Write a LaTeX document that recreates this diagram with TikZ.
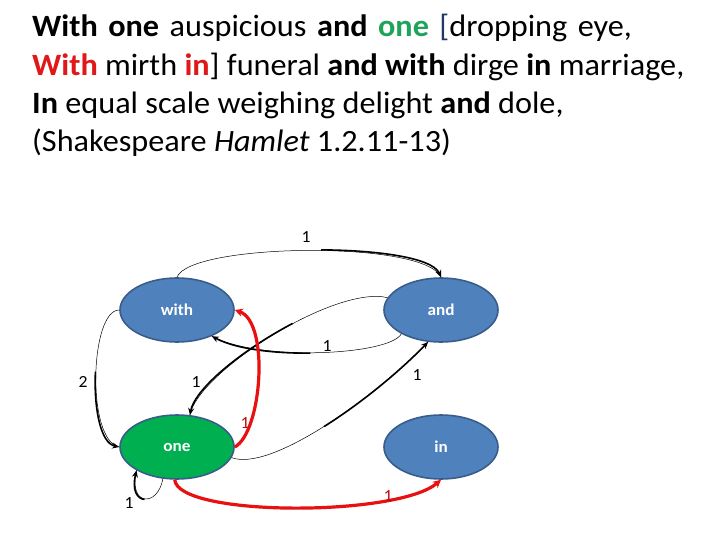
\documentclass[tikz,border=0pt]{standalone}
\usepackage{fontspec}
\setmainfont{Carlito}[FakeStretch=1.04]
\usetikzlibrary{shapes.geometric,arrows.meta}
\definecolor{nodeblue}{HTML}{4F81BD}
\definecolor{nodeedge}{HTML}{385D8A}
\definecolor{nodegreen}{HTML}{00B050}
\definecolor{txtred}{HTML}{E01818}
\definecolor{txtgreen}{HTML}{1FA35A}
\definecolor{brkblue}{HTML}{1F3864}
\definecolor{edgered}{HTML}{E81010}
\tikzset{
  state/.style={ellipse, draw=nodeedge, line width=1.6pt, minimum width=114pt, minimum height=64pt, inner sep=0pt,
    text=white, font=\fontsize{16.5}{18}\selectfont\bfseries},
  blue state/.style={state, fill=nodeblue},
  green state/.style={state, fill=nodegreen},
  line/.style={anchor=base west, inner sep=0pt, font=\fontsize{31}{36}\selectfont},
  thinpart/.style={line width=0.5pt},
  thickpart/.style={line width=1.6pt, dash pattern=on 0pt off #1 on 3000pt, -{Stealth[length=7pt,width=6pt]}},
  rededge/.style={line width=3.2pt, draw=edgered, -{Stealth[length=8pt,width=8pt]}},
  lbl/.style={inner sep=0pt, font=\fontsize{17}{18}\selectfont},
  redlbl/.style={lbl, text=edgered!80!black}
}
\begin{document}
\begin{tikzpicture}[x=1pt,y=-1pt]
\useasboundingbox (0,0) rectangle (720,540);
% text
\node[line] (l1) at (32,37) {\spaceskip=10.5pt\textbf{With one} auspicious \textbf{and} \textcolor{txtgreen}{\textbf{one}} \textcolor{brkblue}{[}dropping eye,};
\node[line] (l2) at (32,76) {\textcolor{txtred}{\textbf{With}} mirth \textcolor{txtred}{\textbf{in}}] funeral \textbf{and with} dirge \textbf{in} marriage,};
\node[line] (l3) at (32,114) {\textbf{In} equal scale weighing delight \textbf{and} dole,};
\node[line] (l4) at (32,152) {(Shakespeare \textit{Hamlet} 1.2.11-13)};
% nodes
\node[blue state] (with) at (177,310) {with};
\node[blue state] (and) at (441,310) {and};
\node[green state] (one) at (177,447) {one};
\node[blue state] (in) at (441,447) {in};
% black edges: thin base, thicker second half
\draw[thinpart] (with.north) .. controls (190,243) and (425,240) .. (and.north);
\draw[thickpart=150pt] (with.north) .. controls (190,243) and (425,240) .. (and.north);
\draw[thinpart] (and.211) .. controls (390,355) and (260,362) .. (with.323);
\draw[thickpart=95pt] (and.211) .. controls (390,355) and (260,362) .. (with.323);
\draw[thinpart] (and.167) .. controls (335,285) and (198,372) .. (one.68);
\draw[thickpart=100pt] (and.167) .. controls (335,285) and (198,372) .. (one.68);
\draw[thinpart] (one.349) .. controls (270,472) and (372,400) .. (and.248);
\draw[thickpart=100pt] (one.349) .. controls (270,472) and (372,400) .. (and.248);
\draw[thinpart] (with.west) .. controls (90,310) and (86,440) .. (one.west);
\draw[thickpart=70pt] (with.west) .. controls (90,310) and (86,440) .. (one.west);
\draw[thinpart] (one.246) .. controls (158,507) and (128,507) .. (one.210);
\draw[thickpart=30pt] (one.246) .. controls (158,507) and (128,507) .. (one.210);
% red edges
\draw[rededge] (one.east) .. controls (262,432) and (270,322) .. (with.east);
\draw[rededge] (one.266) .. controls (178,517) and (398,517) .. (in.south);
% labels
\node[lbl] (la) at (306,237) {1};
\node[lbl] (lb) at (327,346) {1};
\node[lbl] (lc) at (196,382) {1};
\node[lbl] (ld) at (417,375) {1};
\node[lbl] (le) at (83,382) {2};
\node[lbl] (lf) at (129,503) {1};
\node[redlbl] (lg) at (245,423) {1};
\node[redlbl] (lh) at (388,496) {1};
\end{tikzpicture}
\end{document}
